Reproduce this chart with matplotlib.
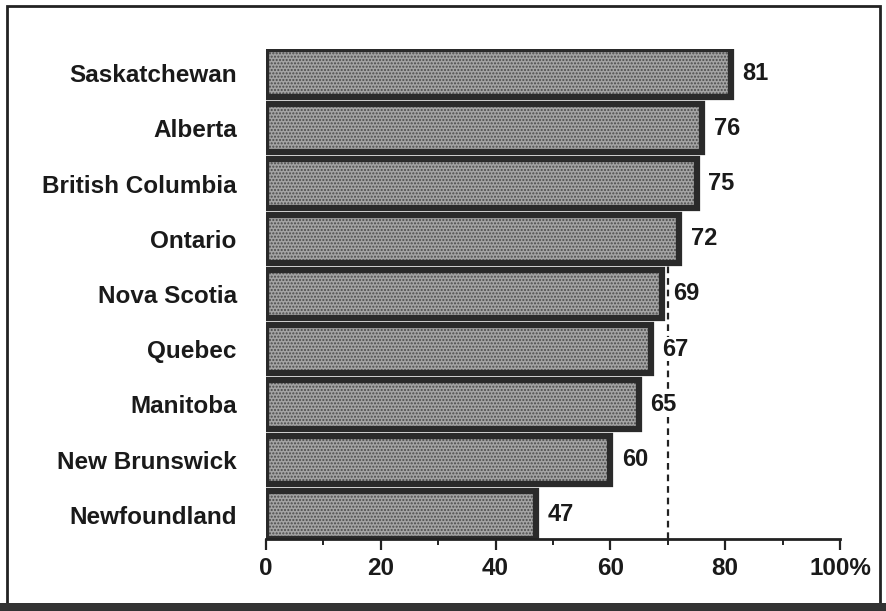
import matplotlib
matplotlib.use("Agg")
import matplotlib.pyplot as plt
from matplotlib.patches import Rectangle

provinces = ["Newfoundland", "New Brunswick", "Manitoba", "Quebec", "Nova Scotia",
             "Ontario", "British Columbia", "Alberta", "Saskatchewan"]
values = [47, 60, 65, 67, 69, 72, 75, 76, 81]
x_ticks = [0, 20, 40, 60, 80, 100]
x_tick_labels = ["0", "20", "40", "60", "80", "100%"]
reference_value = 70

plt.rcParams['font.family'] = ['Liberation Sans', 'DejaVu Sans']

fig = plt.figure(figsize=(8.86, 6.11), dpi=100)
ax = fig.add_axes([266/886, 1-539/611, (840-266)/886, (539-49)/611])

pos = list(range(len(provinces)))
h = 0.87
# textured fill
ax.barh(pos, values, height=h, color='#a4a4a4', edgecolor='#4a4a4a',
        hatch='.....', linewidth=0, zorder=2)
# dark border
ax.barh(pos, values, height=h, fill=False, edgecolor='#2a2a2a',
        linewidth=4.5, zorder=3)

# dashed reference line from axis up to the bottom of the Ontario bar
ont = provinces.index("Ontario")
ax.plot([reference_value, reference_value], [-h/2, ont - h/2], color='#222222',
        lw=1.6, dashes=(3, 2.2), zorder=1)

for p, v in zip(pos, values):
    ax.text(v + 2.0, p, str(v), va='center', ha='left', fontsize=17,
            fontweight='bold', color='#1a1a1a', zorder=5,
            bbox=dict(facecolor='white', edgecolor='none', pad=0.5))

ax.set_xlim(0, 100)
ax.set_ylim(-h/2, len(provinces) - 1 + h/2)
ax.set_yticks(pos)
ax.set_yticklabels(provinces, fontsize=17.5, fontweight='bold', color='#1a1a1a')
ax.tick_params(axis='y', length=0, pad=21)
ax.set_xticks(x_ticks)
ax.set_xticklabels(x_tick_labels, fontsize=17.5, fontweight='bold', color='#1a1a1a')
ax.set_xticks([10, 30, 50, 70, 90], minor=True)
ax.tick_params(axis='x', which='major', direction='out', length=8, width=1.6,
               color='#222222', pad=5)
ax.tick_params(axis='x', which='minor', direction='out', length=4, width=1.4,
               color='#222222')
for s in ['top', 'right', 'left']:
    ax.spines[s].set_visible(False)
ax.spines['bottom'].set_linewidth(2)
ax.spines['bottom'].set_color('#222222')
ax.spines['bottom'].set_zorder(4)

# outer frame
fig.patches.append(Rectangle((7/886, 1-605/611), (880-7)/886, (605-6)/611,
                             transform=fig.transFigure, fill=False,
                             edgecolor='#222222', linewidth=2))
fig.patches.append(Rectangle((0, 0), 1, 1-603/611, transform=fig.transFigure,
                             facecolor='#333333', edgecolor='none'))

fig.savefig("out.png", dpi=100)
